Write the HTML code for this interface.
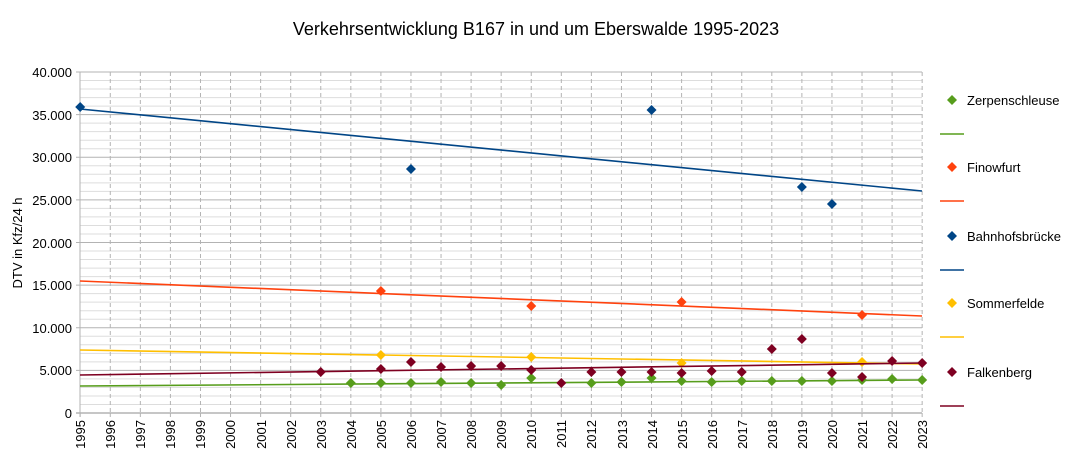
<!DOCTYPE html>
<html><head><meta charset="utf-8"><style>
body{margin:0;background:#fff;}
svg{display:block;font-family:"Liberation Sans",sans-serif;}
</style></head><body>
<svg id="s" width="1073" height="466" viewBox="0 0 1073 466">
<rect width="1073" height="466" fill="#fff"/>
<g id="grid"></g>
<text x="536" y="35" font-size="18" text-anchor="middle" fill="#000">Verkehrsentwicklung B167 in und um Eberswalde 1995-2023</text>
<text transform="translate(22,243) rotate(-90)" font-size="13" text-anchor="middle">DTV in Kfz/24 h</text>
<g font-size="13" text-anchor="end" fill="#000">
<text x="72" y="77">40.000</text>
<text x="72" y="120">35.000</text>
<text x="72" y="162">30.000</text>
<text x="72" y="205">25.000</text>
<text x="72" y="248">20.000</text>
<text x="72" y="290">15.000</text>
<text x="72" y="333">10.000</text>
<text x="72" y="375">5.000</text>
<text x="72" y="418">0</text>
</g>
<g font-size="13" text-anchor="end">
<text transform="translate(85,420) rotate(-90)">1995</text>
<text transform="translate(115,420) rotate(-90)">1996</text>
<text transform="translate(145,420) rotate(-90)">1997</text>
<text transform="translate(175,420) rotate(-90)">1998</text>
<text transform="translate(205,420) rotate(-90)">1999</text>
<text transform="translate(235,420) rotate(-90)">2000</text>
<text transform="translate(266,420) rotate(-90)">2001</text>
<text transform="translate(296,420) rotate(-90)">2002</text>
<text transform="translate(326,420) rotate(-90)">2003</text>
<text transform="translate(356,420) rotate(-90)">2004</text>
<text transform="translate(386,420) rotate(-90)">2005</text>
<text transform="translate(416,420) rotate(-90)">2006</text>
<text transform="translate(446,420) rotate(-90)">2007</text>
<text transform="translate(476,420) rotate(-90)">2008</text>
<text transform="translate(506,420) rotate(-90)">2009</text>
<text transform="translate(536,420) rotate(-90)">2010</text>
<text transform="translate(566,420) rotate(-90)">2011</text>
<text transform="translate(596,420) rotate(-90)">2012</text>
<text transform="translate(627,420) rotate(-90)">2013</text>
<text transform="translate(657,420) rotate(-90)">2014</text>
<text transform="translate(687,420) rotate(-90)">2015</text>
<text transform="translate(717,420) rotate(-90)">2016</text>
<text transform="translate(747,420) rotate(-90)">2017</text>
<text transform="translate(777,420) rotate(-90)">2018</text>
<text transform="translate(807,420) rotate(-90)">2019</text>
<text transform="translate(837,420) rotate(-90)">2020</text>
<text transform="translate(867,420) rotate(-90)">2021</text>
<text transform="translate(897,420) rotate(-90)">2022</text>
<text transform="translate(927,420) rotate(-90)">2023</text>
</g>
<g font-size="13">
<text x="967" y="105">Zerpenschleuse</text>
<text x="967" y="172">Finowfurt</text>
<text x="967" y="241">Bahnhofsbrücke</text>
<text x="967" y="308">Sommerfelde</text>
<text x="967" y="377">Falkenberg</text>
</g>
<g id="data"></g>
</svg>
<script>
var NS="http://www.w3.org/2000/svg";
function el(p,t,a){var e=document.createElementNS(NS,t);for(var k in a)e.setAttribute(k,a[k]);p.appendChild(e);return e;}
var g=document.getElementById('grid'),d=document.getElementById('data');
function Y(v){return 413-v*341/40000;}
function X(yr){return 80.2+(yr-1995)*30.07;}
for(var v=1000;v<40000;v+=1000){if(v%5000)el(g,'line',{x1:80,x2:922,y1:Y(v),y2:Y(v),stroke:'#dddddd','stroke-width':1});}
for(var yr=1996;yr<=2023;yr++){el(g,'line',{x1:X(yr),x2:X(yr),y1:72,y2:413,stroke:'#b3b3b3','stroke-width':1,'stroke-dasharray':'4,3'});}
for(var v=5000;v<=40000;v+=5000){el(g,'line',{x1:76,x2:922,y1:Y(v),y2:Y(v),stroke:'#b3b3b3','stroke-width':1});}
el(g,'line',{x1:80,x2:80,y1:72,y2:417,stroke:'#b3b3b3','stroke-width':1});
el(g,'line',{x1:76,x2:922,y1:413,y2:413,stroke:'#b3b3b3','stroke-width':1.5});
for(var yr=1995;yr<=2023;yr++)el(g,'line',{x1:X(yr),x2:X(yr),y1:413,y2:417,stroke:'#b3b3b3'});
function dia(x,y,c){el(d,'polygon',{points:(x)+','+(y-5)+' '+(x+5)+','+y+' '+x+','+(y+5)+' '+(x-5)+','+y,fill:c});}
var S=[
 {c:'#579d1c',t:[386,380],p:[[2004,383],[2005,383],[2006,383],[2007,382],[2008,383],[2009,385],[2010,378],[2012,383],[2013,382],[2014,378],[2015,381],[2016,382],[2017,381],[2018,381],[2019,381],[2020,381],[2021,380],[2022,379],[2023,380]],ly:100},
 {c:'#ff420e',t:[281,316],p:[[2005,291],[2010,306],[2015,302],[2021,315]],ly:167},
 {c:'#004586',t:[109,191],p:[[1995,107],[2006,169],[2014,110],[2019,187],[2020,204]],ly:236},
 {c:'#ffbf00',t:[350,364],p:[[2005,355],[2010,357],[2015,363],[2021,362]],ly:303},
 {c:'#7e0021',t:[375,363],p:[[2003,372],[2005,369],[2006,362],[2007,367],[2008,366],[2009,366],[2010,370],[2011,383],[2012,372],[2013,372],[2014,372],[2015,373],[2016,371],[2017,372],[2018,349],[2019,339],[2020,373],[2021,377],[2022,361],[2023,363]],ly:372}
];
S.forEach(function(s){
 el(d,'line',{x1:80,x2:922,y1:s.t[0],y2:s.t[1],stroke:s.c,'stroke-width':1.6});
 s.p.forEach(function(q){dia(X(q[0]),q[1],s.c);});
 dia(952,s.ly,s.c);
 el(d,'line',{x1:940,x2:964,y1:s.ly+34,y2:s.ly+34,stroke:s.c,'stroke-width':1.6});
});
</script>
</body></html>
